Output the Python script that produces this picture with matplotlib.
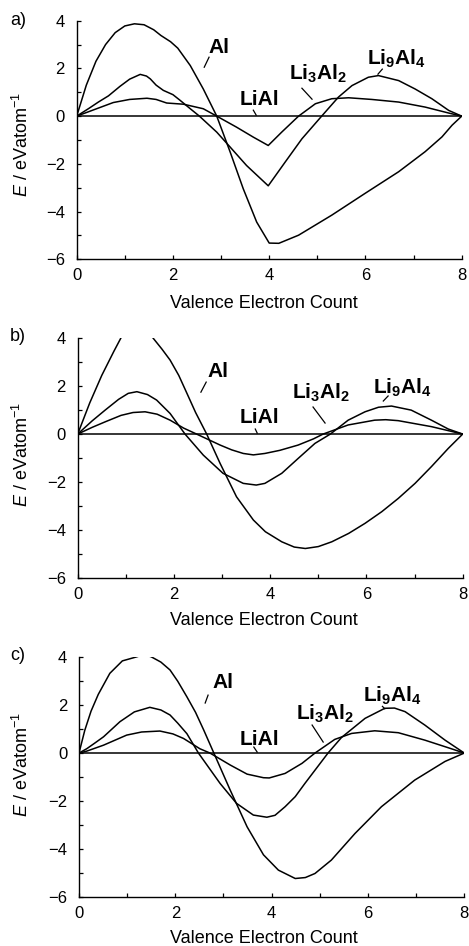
import matplotlib
matplotlib.use('Agg')
import matplotlib.pyplot as plt
from matplotlib.ticker import MultipleLocator

plt.rcParams['font.family'] = ['Liberation Sans', 'DejaVu Sans']
plt.rcParams['mathtext.fontset'] = 'custom'
plt.rcParams['mathtext.rm'] = 'Liberation Sans'
plt.rcParams['mathtext.it'] = 'Liberation Sans:italic'
plt.rcParams['mathtext.bf'] = 'Liberation Sans:bold'

# ---------------- data ----------------
panel_names = ['a)', 'b)', 'c)']
series_names = ['Al', 'LiAl', r'$\mathbf{Li_3Al_2}$', r'$\mathbf{Li_9Al_4}$']
x_label = 'Valence Electron Count'
y_label = r'$E$ / eVatom$^{-1}$'
x_ticks = [0, 2, 4, 6, 8]
y_ticks = [-6, -4, -2, 0, 2, 4]

# LiAl reference (zero line)
liai_x = [0, 8]
liai_y = [0, 0]

# panel a
a_al_x = [0, 0.2, 0.4, 0.6, 0.8, 1.0, 1.2, 1.4, 1.6, 1.75, 1.95, 2.1, 2.36, 2.63, 2.91, 3.19, 3.46, 3.74, 4.0, 4.2, 4.61, 5.3, 5.99, 6.69, 7.24, 7.59, 7.8, 8]
a_al_y = [0, 1.3, 2.3, 3.0, 3.5, 3.78, 3.87, 3.83, 3.62, 3.38, 3.12, 2.85, 2.12, 1.14, 0, -1.51, -3.04, -4.44, -5.32, -5.33, -4.99, -4.15, -3.24, -2.33, -1.49, -0.87, -0.38, 0]
a_l32_x = [0, 0.4, 0.76, 1.1, 1.46, 1.65, 1.87, 2.22, 2.63, 2.91, 3.32, 3.67, 3.98, 4.26, 4.61, 4.96, 5.3, 5.65, 6.13, 6.69, 7.24, 7.73, 8]
a_l32_y = [0, 0.3, 0.57, 0.7, 0.75, 0.7, 0.55, 0.5, 0.31, 0, -0.46, -0.88, -1.23, -0.67, 0, 0.52, 0.73, 0.77, 0.70, 0.59, 0.38, 0.13, 0]
a_l94_x = [0, 0.25, 0.45, 0.66, 0.9, 1.1, 1.32, 1.45, 1.53, 1.65, 1.8, 2.0, 2.15, 2.36, 2.55, 2.91, 3.19, 3.53, 3.98, 4.33, 4.68, 5.09, 5.44, 5.72, 6.06, 6.27, 6.69, 7.03, 7.38, 7.73, 8]
a_l94_y = [0, 0.32, 0.59, 0.85, 1.25, 1.55, 1.75, 1.68, 1.56, 1.3, 1.08, 0.9, 0.66, 0.31, 0, -0.67, -1.30, -2.07, -2.92, -1.93, -0.95, 0, 0.8, 1.28, 1.63, 1.70, 1.49, 1.14, 0.73, 0.24, 0]

# panel b
b_al_x = [0, 0.25, 0.5, 0.75, 0.91, 1.0, 1.25, 1.4, 1.57, 1.75, 1.92, 2.1, 2.27, 2.45, 2.68, 2.96, 3.30, 3.65, 3.9, 4.24, 4.5, 4.73, 5.0, 5.28, 5.63, 5.97, 6.32, 6.66, 7.01, 7.35, 7.70, 8]
b_al_y = [0, 1.3, 2.45, 3.45, 4.06, 4.3, 4.55, 4.45, 4.0, 3.55, 3.09, 2.45, 1.70, 0.9, 0, -1.23, -2.62, -3.59, -4.08, -4.5, -4.72, -4.78, -4.7, -4.5, -4.15, -3.73, -3.24, -2.69, -2.06, -1.36, -0.6, 0]
b_l32_x = [0, 0.3, 0.57, 0.9, 1.15, 1.40, 1.65, 1.92, 2.2, 2.47, 2.96, 3.2, 3.44, 3.65, 3.89, 4.2, 4.58, 4.9, 5.1, 5.62, 6.17, 6.4, 6.66, 7.35, 8]
b_l32_y = [0, 0.28, 0.51, 0.78, 0.9, 0.93, 0.83, 0.58, 0.25, 0, -0.46, -0.66, -0.81, -0.87, -0.81, -0.68, -0.46, -0.2, 0, 0.38, 0.58, 0.6, 0.56, 0.31, 0]
b_l94_x = [0, 0.3, 0.57, 0.85, 1.05, 1.23, 1.45, 1.64, 1.92, 2.23, 2.61, 3.02, 3.44, 3.71, 3.89, 4.24, 4.58, 4.93, 5.25, 5.62, 5.97, 6.25, 6.52, 6.93, 7.35, 7.70, 8]
b_l94_y = [0, 0.55, 1.0, 1.45, 1.7, 1.77, 1.65, 1.42, 0.86, 0, -0.88, -1.64, -2.06, -2.13, -2.06, -1.64, -1.02, -0.39, 0, 0.58, 0.93, 1.12, 1.17, 1.0, 0.58, 0.21, 0]

# panel c
c_al_x = [0, 0.12, 0.25, 0.4, 0.64, 0.9, 1.2, 1.35, 1.5, 1.7, 1.89, 2.05, 2.24, 2.42, 2.59, 2.80, 3.14, 3.49, 3.83, 4.14, 4.49, 4.70, 4.90, 5.24, 5.73, 6.28, 6.97, 7.60, 8]
c_al_y = [0, 0.95, 1.75, 2.45, 3.33, 3.85, 4.02, 4.12, 4.02, 3.8, 3.47, 3.0, 2.35, 1.7, 0.96, 0, -1.55, -3.08, -4.25, -4.89, -5.24, -5.2, -5.03, -4.47, -3.36, -2.24, -1.13, -0.35, 0]
c_l32_x = [0, 0.16, 0.51, 0.99, 1.3, 1.68, 1.95, 2.17, 2.51, 2.72, 3.14, 3.49, 3.83, 3.95, 4.28, 4.63, 4.90, 5.31, 5.66, 6.14, 6.63, 7.18, 7.67, 8]
c_l32_y = [0, 0.08, 0.33, 0.75, 0.88, 0.92, 0.8, 0.61, 0.18, 0, -0.50, -0.88, -1.03, -1.04, -0.85, -0.43, 0, 0.57, 0.82, 0.93, 0.85, 0.54, 0.22, 0]
c_l94_x = [0, 0.16, 0.33, 0.51, 0.85, 1.15, 1.47, 1.7, 1.89, 2.05, 2.24, 2.48, 2.93, 3.27, 3.62, 3.90, 4.07, 4.28, 4.49, 4.69, 5.17, 5.45, 5.94, 6.35, 6.55, 6.77, 7.18, 7.60, 8]
c_l94_y = [0, 0.18, 0.42, 0.68, 1.31, 1.72, 1.91, 1.8, 1.59, 1.25, 0.81, 0, -1.27, -2.10, -2.59, -2.68, -2.6, -2.24, -1.82, -1.27, 0, 0.65, 1.45, 1.87, 1.88, 1.73, 1.17, 0.54, 0]

panels = [
    [(a_al_x, a_al_y), (a_l32_x, a_l32_y), (a_l94_x, a_l94_y)],
    [(b_al_x, b_al_y), (b_l32_x, b_l32_y), (b_l94_x, b_l94_y)],
    [(c_al_x, c_al_y), (c_l32_x, c_l32_y), (c_l94_x, c_l94_y)],
]

# ---------------- layout / style ----------------
W, H = 469, 946
fig = plt.figure(figsize=(W / 100, H / 100), dpi=100)

# axes boxes in pixels: left, right, top(y=4), bottom(y=-6)
boxes = [(76.7, 461.7, 20.7, 259.3), (77.7, 462.7, 338.3, 577.7), (79.0, 464.3, 657.3, 896.7)]
# label positions (data coords): text anchor (left, baseline) and leader line
label_pos = [
    [((2.73, 2.65), ((2.65, 2.05), (2.75, 2.47))),
     ((3.39, 0.46), ((3.67, 0.25), (3.73, 0.04))),
     ((4.41, 1.51), ((4.68, 1.17), (4.89, 0.71))),
     ((6.04, 2.14), ((6.26, 1.76), (6.35, 1.97)))],
    [((2.69, 2.39), ((2.56, 1.75), (2.67, 2.17))),
     ((3.37, 0.45), ((3.69, 0.21), (3.73, 0.04))),
     ((4.46, 1.49), ((4.89, 1.13), (5.14, 0.46))),
     ((6.14, 1.70), ((6.35, 1.38), (6.45, 1.59)))],
    [((2.78, 2.70), ((2.62, 2.09), (2.68, 2.42))),
     ((3.34, 0.33), ((3.63, 0.25), (3.70, 0.04))),
     ((4.51, 1.38), ((4.84, 1.17), (5.07, 0.46))),
     ((5.90, 2.14), ((6.30, 1.95), (6.35, 1.85)))],
]
panel_lbl_y = [25, 341, 660]
xlabel_base = [308, 625, 943]
ylabel_cy = [145, 455, 765]

for i, (l, r, t, b) in enumerate(boxes):
    ax = fig.add_axes([l / W, 1 - b / H, (r - l) / W, (b - t) / H])
    ax.set_xlim(0, 8)
    ax.set_ylim(-6, 4)
    for s in ['top', 'right']:
        ax.spines[s].set_visible(False)
    for s in ['left', 'bottom']:
        ax.spines[s].set_linewidth(1.0)
    ax.set_xticks(x_ticks)
    ax.set_yticks(y_ticks)
    ax.set_yticklabels([str(v).replace('-', '\u2212') for v in y_ticks])
    ax.xaxis.set_minor_locator(MultipleLocator(1))
    ax.yaxis.set_minor_locator(MultipleLocator(1))
    ax.tick_params(which='both', direction='in', length=3, width=0.9, labelsize=12)
    ax.tick_params(axis='y', pad=8.5)
    ax.tick_params(axis='x', pad=6.5)
    ax.plot(liai_x, liai_y, color='black', lw=1.1)
    for (xs, ys) in panels[i]:
        ax.plot(xs, ys, color='black', lw=1.1)
    for j, name in enumerate(series_names):
        (tx, ty), (p0, p1) = label_pos[i][j]
        ax.text(tx, ty, name, fontsize=15, fontweight='bold', ha='left', va='baseline')
        ax.plot([p0[0], p1[0]], [p0[1], p1[1]], color='black', lw=0.9)
    fig.text(10 / W, 1 - panel_lbl_y[i] / H, panel_names[i], fontsize=13, ha='left', va='baseline')
    fig.text(264 / W, 1 - xlabel_base[i] / H, x_label, fontsize=13, ha='center', va='baseline')
    fig.text(22 / W, 1 - ylabel_cy[i] / H, y_label, fontsize=13, ha='center', va='center', rotation=90)

fig.savefig('out.png', dpi=100)
